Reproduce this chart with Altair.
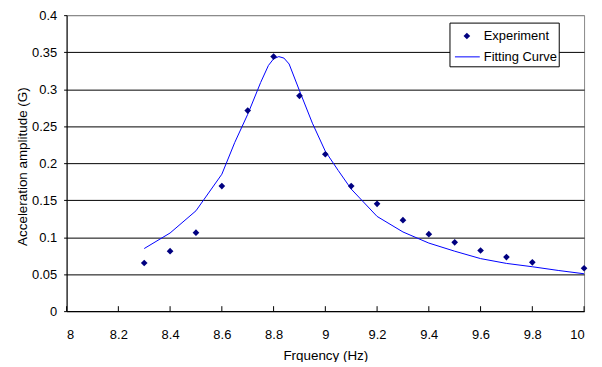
import altair as alt
import pandas as pd

# Experimental data
exp_freq = [8.3, 8.4, 8.5, 8.6, 8.7, 8.8, 8.9, 9.0, 9.1, 9.2, 9.3, 9.4, 9.5, 9.6, 9.7, 9.8, 10.0]
exp_amp = [0.065, 0.081, 0.106, 0.169, 0.271, 0.344, 0.291, 0.212, 0.169, 0.145,
           0.123, 0.104, 0.093, 0.082, 0.073, 0.066, 0.058]

# Fitting curve
fit_freq = [8.3, 8.4, 8.5, 8.6, 8.65, 8.7, 8.75, 8.78, 8.8, 8.82, 8.84, 8.86, 8.9,
            8.95, 9.0, 9.05, 9.1, 9.2, 9.3, 9.4, 9.5, 9.6, 9.7, 9.8, 9.9, 10.0]
fit_amp = [0.0846, 0.1056, 0.1356, 0.185, 0.228, 0.266, 0.309, 0.332, 0.341, 0.344,
           0.342, 0.334, 0.298, 0.254, 0.216, 0.19, 0.165, 0.128, 0.107, 0.092,
           0.081, 0.071, 0.0645, 0.06, 0.055, 0.0505]

x_ticks = [8, 8.2, 8.4, 8.6, 8.8, 9, 9.2, 9.4, 9.6, 9.8, 10]
y_ticks = [0, 0.05, 0.1, 0.15, 0.2, 0.25, 0.3, 0.35, 0.4]
series_names = ["Experiment", "Fitting Curve"]
series_colors = ["#000080", "#0000FF"]

FONT = "Liberation Sans"
W, H = 521, 298

exp_df = pd.DataFrame({"freq": exp_freq, "amp": exp_amp})
fit_df = pd.DataFrame({"freq": fit_freq, "amp": fit_amp})
tick_df = pd.DataFrame({"freq": x_ticks})
one = pd.DataFrame({"k": [0]})

x_enc = alt.X(
    "freq:Q",
    scale=alt.Scale(domain=[8, 10], nice=False, zero=False),
    axis=alt.Axis(
        values=x_ticks, format="~g", title="Frquency (Hz)", grid=False,
        ticks=False, tickSize=0, labelPadding=18, domainColor="black",
        labelFont=FONT, labelFontSize=13, labelColor="black",
        titleFont=FONT, titleFontSize=13.5, titleFontWeight="normal",
        titleColor="black", titleX=W / 2, titleY=49, titleBaseline="alphabetic",
    ),
)
y_enc = alt.Y(
    "amp:Q",
    scale=alt.Scale(domain=[0, 0.4], nice=False),
    axis=alt.Axis(
        values=y_ticks, format="~g", title="Acceleration amplitude (G)",
        grid=True,
        gridColor=alt.condition("datum.value >= 0.4", alt.value("#888888"), alt.value("black")),
        gridWidth=1, domainColor="black", tickColor="black", tickSize=3,
        labelPadding=7, labelFont=FONT, labelFontSize=13, labelColor="black",
        titleFont=FONT, titleFontSize=13.5, titleFontWeight="normal",
        titleColor="black", titleX=-40, titleY=H / 2 + 3, titleBaseline="alphabetic",
    ),
)

inner_ticks = alt.Chart(tick_df).mark_rule(color="black", strokeWidth=1).encode(
    x=x_enc, y=alt.value(H), y2=alt.value(H - 5)
)

line = alt.Chart(fit_df).mark_line(strokeWidth=1, color=series_colors[1]).encode(
    x=x_enc, y=y_enc
)

points = alt.Chart(exp_df).mark_point(
    shape="diamond", filled=True, size=45, opacity=1, color=series_colors[0]
).encode(x=x_enc, y=y_enc)

# Legend (drawn as decoration)
leg_box = alt.Chart(one).mark_rect(fill="white", stroke="black", strokeWidth=1).encode(
    x=alt.value(386), x2=alt.value(496), y=alt.value(8), y2=alt.value(52)
)
leg_pt = alt.Chart(one).mark_point(
    shape="diamond", filled=True, size=45, opacity=1, color=series_colors[0]
).encode(x=alt.value(403), y=alt.value(21))
leg_ln = alt.Chart(one).mark_rule(color=series_colors[1], strokeWidth=1).encode(
    x=alt.value(391), x2=alt.value(416), y=alt.value(42)
)
leg_t1 = alt.Chart(one).mark_text(
    align="left", baseline="middle", font=FONT, fontSize=13, color="black"
).encode(x=alt.value(420), y=alt.value(21), text=alt.value(series_names[0]))
leg_t2 = alt.Chart(one).mark_text(
    align="left", baseline="middle", font=FONT, fontSize=13, color="black"
).encode(x=alt.value(420), y=alt.value(42), text=alt.value(series_names[1]))

chart = (
    alt.layer(inner_ticks, line, points, leg_box, leg_pt, leg_ln, leg_t1, leg_t2)
    .properties(
        width=W, height=H,
        autosize=alt.AutoSizeParams(type="none"),
        padding={"left": 59, "top": 6, "right": 10, "bottom": 50},
        background="white",
    )
    .configure_view(stroke="#888888", strokeWidth=1)
)

chart.save("out.html", embed_options={"renderer": "svg", "actions": False})
